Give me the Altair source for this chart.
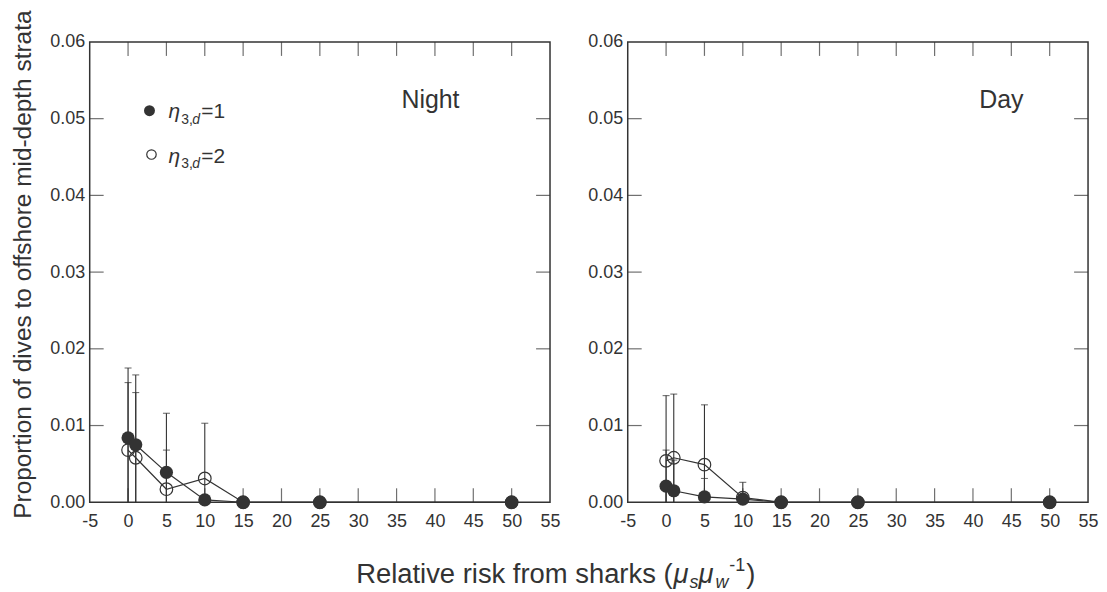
import altair as alt
import pandas as pd

# ---------------- data ----------------
risk = [0, 1, 5, 10, 15, 25, 50]

night_eta1_mean = [0.0084, 0.0075, 0.0039, 0.0003, 0.0, 0.0, 0.0]
night_eta1_upper = [0.0175, 0.0166, 0.0116, 0.0006, 0.0, 0.0, 0.0]
night_eta2_mean = [0.0068, 0.0058, 0.0017, 0.0031, 0.0, 0.0, 0.0]
night_eta2_upper = [0.0156, 0.0143, 0.0068, 0.0103, 0.0, 0.0, 0.0]

day_eta1_mean = [0.0021, 0.0015, 0.0007, 0.0004, 0.0, 0.0, 0.0]
day_eta1_upper = [0.0068, 0.0055, 0.0031, 0.0008, 0.0, 0.0, 0.0]
day_eta2_mean = [0.0054, 0.0058, 0.0049, 0.0006, 0.0, 0.0, 0.0]
day_eta2_upper = [0.0139, 0.0141, 0.0127, 0.0026, 0.0, 0.0, 0.0]

x_ticks = [-5, 0, 5, 10, 15, 20, 25, 30, 35, 40, 45, 50, 55]
x_inner_ticks = [0, 5, 10, 15, 20, 25, 30, 35, 40, 45, 50]
y_ticks = [0.0, 0.01, 0.02, 0.03, 0.04, 0.05, 0.06]
y_inner_ticks = [0.01, 0.02, 0.03, 0.04, 0.05]

y_title = "Proportion of dives to offshore mid-depth strata"

# ---------------- build tables ----------------
rows = []
for panel, series, means, uppers in [
    ("Night", "eta1", night_eta1_mean, night_eta1_upper),
    ("Night", "eta2", night_eta2_mean, night_eta2_upper),
    ("Day", "eta1", day_eta1_mean, day_eta1_upper),
    ("Day", "eta2", day_eta2_mean, day_eta2_upper),
]:
    for r, m, u in zip(risk, means, uppers):
        lo = max(0.0, 2 * m - u)
        rows.append({"panel": panel, "series": series, "risk": r,
                     "mean": m, "upper": u, "lower": lo})
df = pd.DataFrame(rows)

xt_df = pd.DataFrame({"v": x_inner_ticks})
yt_df = pd.DataFrame({"v": y_inner_ticks})

W, H = 462, 462
TICK = 14
INK = "#333333"
FONT = "Liberation Sans"

xscale = alt.Scale(domain=[-5, 55], nice=False, zero=False)
yscale = alt.Scale(domain=[0, 0.06], nice=False, zero=False)


def xaxis():
    return alt.Axis(values=x_ticks, title=None, ticks=False, tickSize=0,
                    domain=False, grid=False, labelFontSize=18,
                    labelPadding=10, labelColor=INK, labelFont=FONT,
                    labelOverlap=False, labelFlush=False,
                    labelExpr="toString(datum.value)")


def yaxis(show_title):
    kw = dict(values=y_ticks, format=".2f", ticks=False, tickSize=0,
              domain=False, grid=False, labelFontSize=18, labelPadding=5,
              labelColor=INK, labelFont=FONT, labelOverlap=False,
              labelFlush=False)
    if show_title:
        kw.update(title=y_title, titleFontSize=24.5, titleFontWeight="normal",
                  titleColor=INK, titleFont=FONT, titlePadding=14, titleY=223)
    else:
        kw.update(title=None)
    return alt.Axis(**kw)


def X(field, show_title):
    return alt.X(field, type="quantitative", scale=xscale, axis=xaxis())


def Y(field, show_title):
    return alt.Y(field, type="quantitative", scale=yscale, axis=yaxis(show_title))


def panel(name, label, label_x, legend):
    st = legend
    d = df[df["panel"] == name]
    base = alt.Chart(d)

    bottom_ticks = alt.Chart(xt_df).mark_tick(
        color=INK, orient="vertical", size=TICK, thickness=1.2).encode(
        x=X("v", st), y=alt.value(H - TICK / 2))
    top_ticks = alt.Chart(xt_df).mark_tick(
        color=INK, orient="vertical", size=TICK, thickness=1.2).encode(
        x=X("v", st), y=alt.value(TICK / 2))
    left_ticks = alt.Chart(yt_df).mark_tick(
        color=INK, orient="horizontal", size=TICK, thickness=1.2).encode(
        y=Y("v", st), x=alt.value(TICK / 2))
    right_ticks = alt.Chart(yt_df).mark_tick(
        color=INK, orient="horizontal", size=TICK, thickness=1.2).encode(
        y=Y("v", st), x=alt.value(W - TICK / 2))

    bars = base.transform_filter("datum.upper > datum.mean").mark_rule(
        color=INK, strokeWidth=1.1).encode(
        x=X("risk", st), y=Y("lower", st), y2="upper")
    caps = base.transform_filter("datum.upper > datum.mean").mark_tick(
        color=INK, orient="horizontal", size=7, thickness=1.1).encode(
        x=X("risk", st), y=Y("upper", st))
    lines = base.mark_line(color=INK, strokeWidth=1.2).encode(
        x=X("risk", st), y=Y("mean", st), detail="series:N", order="risk:Q")
    open_pts = base.transform_filter("datum.series == 'eta2'").mark_point(
        shape="circle", filled=False, size=160, stroke=INK, strokeWidth=1.2,
        opacity=1).encode(x=X("risk", st), y=Y("mean", st))
    filled_pts = base.transform_filter("datum.series == 'eta1'").mark_circle(
        size=175, color=INK, opacity=1).encode(x=X("risk", st), y=Y("mean", st))

    lab = alt.Chart(xt_df.head(1)).mark_text(
        text=label, font=FONT, fontSize=25, color=INK, align="center",
        baseline="alphabetic").encode(x=alt.value(label_x), y=alt.value(66))

    layers = [bottom_ticks, top_ticks, left_ticks, right_ticks, bars, caps,
              lines, open_pts, filled_pts, lab]

    if legend:
        one = xt_df.head(1)
        leg = []
        for i, (txt, filled) in enumerate([("=1", True), ("=2", False)]):
            yb = 76 + 45 * i
            if filled:
                leg.append(alt.Chart(one).mark_circle(size=120, color=INK, opacity=1)
                           .encode(x=alt.value(60), y=alt.value(yb - 7)))
            else:
                leg.append(alt.Chart(one).mark_point(shape="circle", filled=False,
                                                     size=90, stroke=INK,
                                                     strokeWidth=1.2, opacity=1)
                           .encode(x=alt.value(62), y=alt.value(yb - 8)))
            leg.append(alt.Chart(one).mark_text(text="η", font=FONT, fontSize=21,
                                                fontStyle="italic", color=INK,
                                                align="left", baseline="alphabetic")
                       .encode(x=alt.value(79), y=alt.value(yb)))
            leg.append(alt.Chart(one).mark_text(text="3,", font=FONT, fontSize=14,
                                                color=INK, align="left",
                                                baseline="alphabetic")
                       .encode(x=alt.value(92), y=alt.value(yb + 6)))
            leg.append(alt.Chart(one).mark_text(text="d", font=FONT, fontSize=14,
                                                fontStyle="italic", color=INK,
                                                align="left", baseline="alphabetic")
                       .encode(x=alt.value(103), y=alt.value(yb + 6)))
            leg.append(alt.Chart(one).mark_text(text=txt, font=FONT, fontSize=21,
                                                color=INK, align="left",
                                                baseline="alphabetic")
                       .encode(x=alt.value(112), y=alt.value(yb)))
        layers += leg

    return alt.layer(*layers).properties(width=W, height=H)


left = panel("Night", "Night", 342, True)
right = panel("Day", "Day", 375, False)

row = alt.hconcat(left, right, spacing=26)

# ---------------- x-axis title with sub/superscripts ----------------
one = xt_df.head(1)
TB = 27      # baseline inside title strip
XA = 585     # end of the main text (relative to left plot origin)
FS = 27.5
FSS = 18


def piece(text, x, dy, size, italic=False, align="left"):
    kw = dict(text=text, font=FONT, fontSize=size, color=INK, align=align,
              baseline="alphabetic")
    if italic:
        kw["fontStyle"] = "italic"
    return alt.Chart(one).mark_text(**kw).encode(x=alt.value(x), y=alt.value(TB + dy))


title_strip = alt.layer(
    piece("Relative risk from sharks (", XA, 0, FS, align="right"),
    piece("μ", XA + 1, 0, FS, italic=True),
    piece("s", XA + 17, 5, FSS, italic=True),
    piece("μ", XA + 26, 0, FS, italic=True),
    piece("w", XA + 43, 5, FSS, italic=True),
    piece("-1", XA + 57, -12, FSS),
    piece(")", XA + 74, 0, FS),
).properties(width=900, height=30, view=alt.ViewBackground(strokeOpacity=0))

chart = alt.vconcat(row, title_strip, spacing=25).properties(
    padding={"left": 2, "top": 0, "right": 0, "bottom": 0},
    background="white",
).configure_view(stroke=INK, strokeWidth=1.5)

chart.save("out.html", embed_options={"renderer": "svg", "actions": False})
